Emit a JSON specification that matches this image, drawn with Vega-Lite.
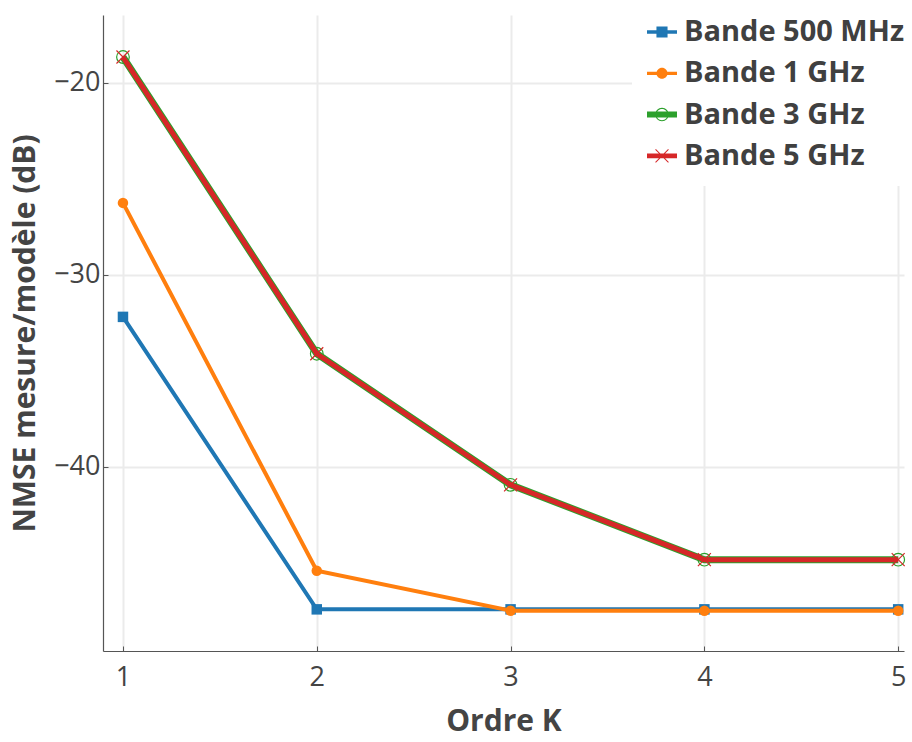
{
  "$schema": "https://vega.github.io/schema/vega-lite/v6.json",
  "width": 801,
  "height": 636,
  "autosize": {"type": "none"},
  "padding": {"left": 103, "top": 15, "right": 8, "bottom": 91},
  "background": "white",
  "datasets": {
    "d": [
      {"K": 1, "nmse": -32.19, "band": "Bande 500 MHz"},
      {"K": 2, "nmse": -47.43, "band": "Bande 500 MHz"},
      {"K": 3, "nmse": -47.43, "band": "Bande 500 MHz"},
      {"K": 4, "nmse": -47.43, "band": "Bande 500 MHz"},
      {"K": 5, "nmse": -47.43, "band": "Bande 500 MHz"},
      {"K": 1, "nmse": -26.25, "band": "Bande 1 GHz"},
      {"K": 2, "nmse": -45.42, "band": "Bande 1 GHz"},
      {"K": 3, "nmse": -47.5, "band": "Bande 1 GHz"},
      {"K": 4, "nmse": -47.5, "band": "Bande 1 GHz"},
      {"K": 5, "nmse": -47.5, "band": "Bande 1 GHz"},
      {"K": 1, "nmse": -18.65, "band": "Bande 3 GHz"},
      {"K": 2, "nmse": -34.11, "band": "Bande 3 GHz"},
      {"K": 3, "nmse": -40.94, "band": "Bande 3 GHz"},
      {"K": 4, "nmse": -44.84, "band": "Bande 3 GHz"},
      {"K": 5, "nmse": -44.84, "band": "Bande 3 GHz"},
      {"K": 1, "nmse": -18.65, "band": "Bande 5 GHz"},
      {"K": 2, "nmse": -34.11, "band": "Bande 5 GHz"},
      {"K": 3, "nmse": -40.94, "band": "Bande 5 GHz"},
      {"K": 4, "nmse": -44.84, "band": "Bande 5 GHz"},
      {"K": 5, "nmse": -44.84, "band": "Bande 5 GHz"}
    ]
  },
  "config": {
    "view": {"stroke": null},
    "axis": {
      "domainColor": "#555555",
      "domainWidth": 1.2,
      "gridColor": "#ebebeb",
      "gridWidth": 2,
      "tickColor": "#555555",
      "tickSize": -5,
      "labelFont": "Open Sans",
      "labelFontSize": 27,
      "labelColor": "#444444",
      "titleFont": "Open Sans",
      "titleFontWeight": "bold",
      "titleFontSize": 30,
      "titleColor": "#444444"
    },
    "legend": {
      "labelFont": "Open Sans",
      "labelFontWeight": "bold",
      "labelFontSize": 29,
      "labelColor": "#404040",
      "labelLimit": 0,
      "symbolSize": 900,
      "symbolStrokeWidth": 0,
      "symbolOpacity": 1,
      "rowPadding": 11.3,
      "labelOffset": 7,
      "padding": 15,
      "fillColor": "white"
    }
  },
  "encoding": {
    "x": {
      "field": "K",
      "type": "quantitative",
      "scale": {"domain": [0.897, 5.03], "nice": false, "zero": false},
      "axis": {"values": [1, 2, 3, 4, 5], "title": "Ordre K", "labelPadding": 18, "titlePadding": 16}
    },
    "y": {
      "field": "nmse",
      "type": "quantitative",
      "scale": {"domain": [-49.6, -16.46], "nice": false, "zero": false},
      "axis": {"values": [-40, -30, -20], "title": "NMSE mesure/modèle (dB)", "labelPadding": 8, "titlePadding": 13}
    }
  },
  "layer": [
    {
      "data": {"name": "d"},
      "transform": [{"filter": "datum.band === 'Bande 500 MHz'"}],
      "mark": {"type": "line", "color": "#1f77b4", "strokeWidth": 4}
    },
    {
      "data": {"name": "d"},
      "transform": [{"filter": "datum.band === 'Bande 500 MHz'"}],
      "mark": {"type": "point", "shape": "square", "filled": true, "color": "#1f77b4", "size": 110, "opacity": 1}
    },
    {
      "data": {"name": "d"},
      "transform": [{"filter": "datum.band === 'Bande 1 GHz'"}],
      "mark": {"type": "line", "color": "#ff7f0e", "strokeWidth": 4}
    },
    {
      "data": {"name": "d"},
      "transform": [{"filter": "datum.band === 'Bande 1 GHz'"}],
      "mark": {"type": "point", "shape": "circle", "filled": true, "color": "#ff7f0e", "size": 110, "opacity": 1}
    },
    {
      "data": {"name": "d"},
      "transform": [{"filter": "datum.band === 'Bande 3 GHz'"}],
      "mark": {"type": "line", "color": "#2ca02c", "strokeWidth": 7}
    },
    {
      "data": {"name": "d"},
      "transform": [{"filter": "datum.band === 'Bande 3 GHz'"}],
      "mark": {"type": "point", "shape": "circle", "filled": false, "stroke": "#2ca02c", "strokeWidth": 1.2, "size": 160, "opacity": 1}
    },
    {
      "data": {"name": "d"},
      "transform": [{"filter": "datum.band === 'Bande 5 GHz'"}],
      "mark": {"type": "line", "color": "#d62728", "strokeWidth": 5}
    },
    {
      "data": {"name": "d"},
      "transform": [{"filter": "datum.band === 'Bande 5 GHz'"}],
      "mark": {"type": "point", "shape": "M-1,-1L1,1M1,-1L-1,1", "filled": false, "stroke": "#d62728", "strokeWidth": 1.2, "size": 169, "opacity": 1}
    },
    {
      "data": {"name": "d"},
      "mark": {"type": "point", "filled": true, "opacity": 0, "strokeWidth": 0},
      "encoding": {
        "color": {
          "field": "band",
          "type": "nominal",
          "scale": {
            "domain": ["Bande 500 MHz", "Bande 1 GHz", "Bande 3 GHz", "Bande 5 GHz"],
            "range": ["#1f77b4", "#ff7f0e", "#2ca02c", "#d62728"]
          },
          "legend": {"title": null, "orient": "none", "legendX": 529, "legendY": -13, "symbolOpacity": 1}
        },
        "shape": {
          "field": "band",
          "type": "nominal",
          "scale": {
            "domain": ["Bande 500 MHz", "Bande 1 GHz", "Bande 3 GHz", "Bande 5 GHz"],
            "range": [
              "M-1,-0.11H1V0.11H-1Z M-0.37,-0.37H0.37V0.37H-0.37Z",
              "M-1,-0.11H1V0.11H-1Z M-0.37,0A0.37,0.37 0 1,1 0.37,0A0.37,0.37 0 1,1 -0.37,0Z",
              "M-1,-0.2H1V0.2H-1Z M-0.45,0A0.45,0.45 0 1,1 0.45,0A0.45,0.45 0 1,1 -0.45,0Z M-0.38,0A0.38,0.38 0 1,0 0.38,0A0.38,0.38 0 1,0 -0.38,0Z",
              "M-1,-0.16H1V0.16H-1Z M-0.406,-0.454L0.454,0.406L0.406,0.454L-0.454,-0.406Z M0.454,-0.406L-0.406,0.454L-0.454,0.406L0.406,-0.454Z"
            ]
          },
          "legend": {"title": null, "orient": "none", "legendX": 529, "legendY": -13, "symbolOpacity": 1}
        }
      }
    }
  ]
}
